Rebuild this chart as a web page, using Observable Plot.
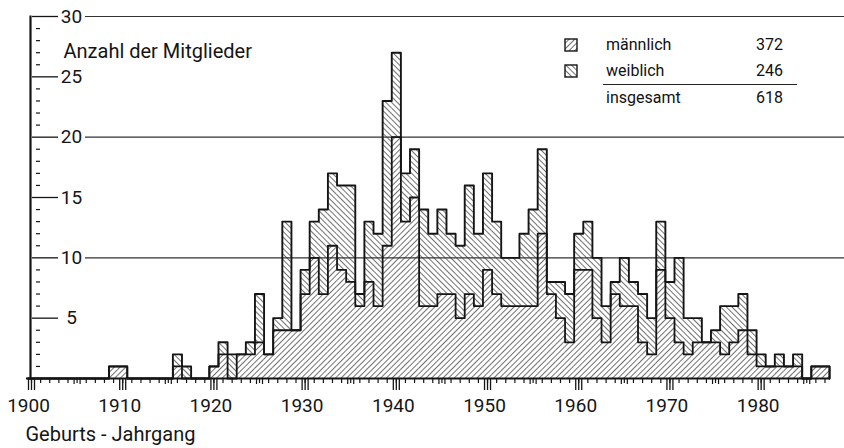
<!DOCTYPE html>
<html><head><meta charset="utf-8">
<script src="https://cdn.jsdelivr.net/npm/d3@7"></script>
<script src="https://cdn.jsdelivr.net/npm/@observablehq/plot@0.6"></script>
<style>
body{margin:0;background:#fff;}
#wrap{position:relative;width:844px;height:448px;font-family:Roboto,sans-serif;color:#111;overflow:hidden;}
.lg{position:absolute;font-size:16px;line-height:16px;white-space:nowrap;}
.num{text-align:right;width:40px;}
.sw{position:absolute;}
.rule{position:absolute;height:0;border-top:1.3px solid #222;}
</style></head><body><div id="wrap"></div>
<script>
const years = [
 1900,1901,1902,1903,1904,1905,1906,1907,1908,1909,
 1910,1911,1912,1913,1914,1915,1916,1917,1918,1919,
 1920,1921,1922,1923,1924,1925,1926,1927,1928,1929,
 1930,1931,1932,1933,1934,1935,1936,1937,1938,1939,
 1940,1941,1942,1943,1944,1945,1946,1947,1948,1949,
 1950,1951,1952,1953,1954,1955,1956,1957,1958,1959,
 1960,1961,1962,1963,1964,1965,1966,1967,1968,1969,
 1970,1971,1972,1973,1974,1975,1976,1977,1978,1979,
 1980,1981,1982,1983,1984,1985,1986,1987];
const male = [
 0,0,0,0,0,0,0,0,0,1,
 1,0,0,0,0,0,1,0,0,0,
 1,2,0,2,2,3,2,4,4,4,
 7,10,7,11,9,8,6,8,6,11,
 20,13,15,6,6,7,7,5,7,6,
 9,7,6,6,6,6,12,7,5,3,
 9,9,5,3,7,6,6,3,2,9,
 5,3,2,3,3,3,2,3,4,2,
 1,1,1,1,1,0,1,1];
const female = [
 0,0,0,0,0,0,0,0,0,0,
 0,0,0,0,0,0,1,1,0,0,
 0,1,2,0,1,4,0,1,9,0,
 2,3,7,6,7,8,1,5,6,12,
 7,4,4,8,6,7,5,6,9,6,
 8,6,4,4,6,8,7,1,3,4,
 3,4,5,3,1,4,2,4,3,4,
 3,7,3,2,0,1,4,3,3,2,
 1,0,1,0,1,0,0,0];
const legendLabels = ["männlich", "weiblich", "insgesamt"];
const legendTotals = [372, 246, 618];
const yTickLabels = [5, 10, 15, 20, 25, 30];
const yMinorTicks = [1,2,3,4,6,7,8,9,11,12,13,14,16,17,18,19,21,22,23,24,26,27,28,29];
const yGridLines = [10, 20, 30];
const decadeTicks = [1900,1910,1920,1930,1940,1950,1960,1970,1980];
const halfDecadeTicks = [1905,1915,1925,1935,1945,1955,1965,1975,1985];
const yTitle = "Anzahl der Mitglieder";
const xTitle = "Geburts - Jahrgang";

// derived tables
const rectsM = years.map((y, i) => ({x1: y - 0.5, x2: y + 0.5, y1: 0, y2: male[i]})).filter(d => d.y2 > 0);
const rectsF = years.map((y, i) => ({x1: y - 0.5, x2: y + 0.5, y1: male[i], y2: male[i] + female[i]})).filter(d => d.y2 > d.y1);
const stepM = years.map((y, i) => ({x: y - 0.5, v: male[i]}));
stepM.push({x: years[years.length - 1] + 0.5, v: 0});
const stepT = years.map((y, i) => ({x: y - 0.5, v: male[i] + female[i]}));
stepT.push({x: years[years.length - 1] + 0.5, v: 0});

const W = 844, H = 448, ML = 30, MT = 16, MB = 70;
const ink = "#151515";
const blank = () => "";

const chart = Plot.plot({
  width: W, height: H,
  marginLeft: ML, marginRight: 0, marginTop: MT, marginBottom: MB,
  x: {domain: [1899.89, 1989.14]},
  y: {domain: [0, 30], axis: null},
  style: {fontFamily: "Roboto, sans-serif", fontSize: "19px", color: ink, background: "#fff"},
  marks: [
    Plot.rect(rectsM, {x1: "x1", x2: "x2", y1: "y1", y2: "y2", fill: "url(#hatchM)"}),
    Plot.rect(rectsF, {x1: "x1", x2: "x2", y1: "y1", y2: "y2", fill: "url(#hatchF)"}),
    Plot.ruleY(yGridLines, {insetLeft: 55, stroke: "#333", strokeWidth: 1.1}),
    Plot.ruleY(yTickLabels, {insetLeft: 2, insetRight: W - ML - 28, stroke: ink, strokeWidth: 1.3}),
    Plot.ruleY(yMinorTicks, {insetLeft: 6, insetRight: W - ML - 10, stroke: ink, strokeWidth: 1.2}),
    Plot.text(yTickLabels, {y: d => d, frameAnchor: "left", dx: 41, textAnchor: "middle", fontSize: 19, fill: ink}),
    Plot.line(stepM, {x: "x", y: "v", curve: "step-after", stroke: ink, strokeWidth: 1.8}),
    Plot.line(stepT, {x: "x", y: "v", curve: "step-after", stroke: ink, strokeWidth: 1.9}),
    Plot.frame({anchor: "left", stroke: ink, strokeWidth: 2.2}),
    Plot.ruleY([0], {insetLeft: -2, insetRight: 14, stroke: ink, strokeWidth: 2}),
    Plot.axisX({ticks: years, tickSize: 5, tickFormat: blank, label: null, strokeWidth: 1.2}),
    Plot.axisX({ticks: halfDecadeTicks, tickSize: 6, dx: -3, tickFormat: blank, label: null, strokeWidth: 1.2}),
    Plot.axisX({ticks: halfDecadeTicks, tickSize: 6, dx: 3, tickFormat: blank, label: null, strokeWidth: 1.2}),
    Plot.axisX({ticks: decadeTicks, tickSize: 12, dx: -3, tickFormat: blank, label: null, strokeWidth: 1.3}),
    Plot.axisX({ticks: decadeTicks, tickSize: 12, dx: 0, tickFormat: blank, label: null, strokeWidth: 1.3}),
    Plot.axisX({ticks: decadeTicks, tickSize: 12, dx: 3, tickFormat: blank, label: null, strokeWidth: 1.3}),
    Plot.axisX({ticks: decadeTicks, tickSize: 0, tickPadding: 20, dx: -3, tickFormat: d => String(d), label: null, fontSize: 19, fill: ink}),
    Plot.text([yTitle], {frameAnchor: "top-left", dx: 33, dy: 27, textAnchor: "start", lineAnchor: "top", fontSize: 20, fill: ink}),
    Plot.text([xTitle], {frameAnchor: "bottom-left", dx: -5, dy: 48, textAnchor: "start", lineAnchor: "top", fontSize: 20, fill: ink})
  ]
});

const defs = `
<pattern id="hatchM" width="4" height="4" patternUnits="userSpaceOnUse" patternTransform="rotate(45)">
  <line x1="0.5" y1="0" x2="0.5" y2="4" stroke="#333" stroke-width="0.7"/>
</pattern>
<pattern id="hatchF" width="4" height="4" patternUnits="userSpaceOnUse" patternTransform="rotate(-45)">
  <line x1="0.5" y1="0" x2="0.5" y2="4" stroke="#333" stroke-width="0.7"/>
</pattern>`;
d3.select(chart).insert("defs", ":first-child").html(defs);

const wrap = document.getElementById("wrap");
wrap.appendChild(chart);
chart.style.position = "absolute";
chart.style.left = "0px";
chart.style.top = "0px";

// legend (HTML overlay)
const rowTops = [37, 63, 90];
const swFill = ["url(#hatchM)", "url(#hatchF)"];
legendLabels.forEach((lab, i) => {
  if (i < 2) {
    const s = document.createElementNS("http://www.w3.org/2000/svg", "svg");
    s.setAttribute("width", 15); s.setAttribute("height", 15);
    s.setAttribute("class", "sw");
    s.style.left = "564px"; s.style.top = (rowTops[i] + 1) + "px";
    s.innerHTML = `<rect x="1" y="1" width="12" height="12" fill="${swFill[i]}" stroke="${ink}" stroke-width="1.4"/>`;
    wrap.appendChild(s);
  }
  const t = document.createElement("div");
  t.className = "lg"; t.textContent = lab;
  t.style.left = "606px"; t.style.top = rowTops[i] + "px";
  wrap.appendChild(t);
  const n = document.createElement("div");
  n.className = "lg num"; n.textContent = legendTotals[i];
  n.style.left = "743px"; n.style.top = rowTops[i] + "px";
  wrap.appendChild(n);
});
const r = document.createElement("div");
r.className = "rule";
r.style.left = "603px"; r.style.top = "84px"; r.style.width = "194px";
wrap.appendChild(r);
</script>
</body></html>
